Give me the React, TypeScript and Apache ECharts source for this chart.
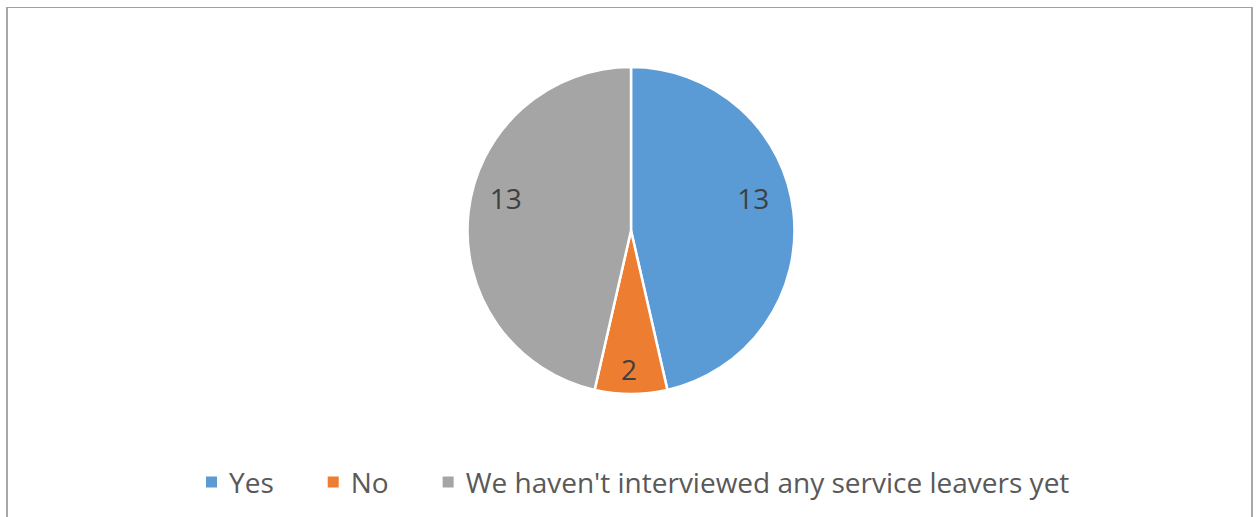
import React, { useEffect, useRef } from "react";
import * as echarts from "echarts";

const categories = ["Yes", "No", "We haven't interviewed any service leavers yet"];
const values = [13, 2, 13];
const colors = ["#5B9BD5", "#ED7D31", "#A5A5A5"];
const labelShift = [
  [38, -23],
  [-2, 54],
  [-41, -23],
];

export default function App() {
  const ref = useRef<HTMLDivElement>(null);
  useEffect(() => {
    document.body.style.margin = "0";
    const chart = echarts.init(ref.current!, null, { renderer: "svg" });
    chart.setOption({
      animation: false,
      color: colors,
      legend: {
        data: categories,
        top: 463,
        left: 199,
        itemWidth: 13,
        itemHeight: 13,
        itemGap: 52,
        icon: "rect",
        textStyle: {
          fontFamily: "Open Sans",
          fontSize: 28,
          color: "#595959",
          padding: [0, 0, 0, 6],
        },
      },
      series: [
        {
          type: "pie",
          center: [631, 230.5],
          radius: [0, 163.5],
          startAngle: 90,
          clockwise: true,
          itemStyle: { borderColor: "#ffffff", borderWidth: 2.5 },
          label: {
            show: true,
            position: "inside",
            formatter: "{c}",
            fontFamily: "Open Sans",
            fontSize: 28,
            color: "#404040",
          },
          labelLayout: (p: any) => ({ dx: labelShift[p.dataIndex][0], dy: labelShift[p.dataIndex][1] }),
          emphasis: { disabled: true },
          data: categories.map((c, i) => ({ name: c, value: values[i] })),
        },
      ],
    });
    return () => chart.dispose();
  }, []);
  return (
    <div style={{ position: "relative", width: 1257, height: 517, overflow: "hidden", background: "#fff" }}>
      <div
        style={{
          position: "absolute",
          left: 6,
          top: 7,
          width: 1243,
          height: 530,
          borderTop: "1.5px solid #a0a0a0",
          borderLeft: "2px solid #a8a8a8",
          borderRight: "2px solid #a8a8a8",
        }}
      />
      <div ref={ref} style={{ position: "absolute", left: 0, top: 0, width: 1257, height: 517 }} />
    </div>
  );
}
